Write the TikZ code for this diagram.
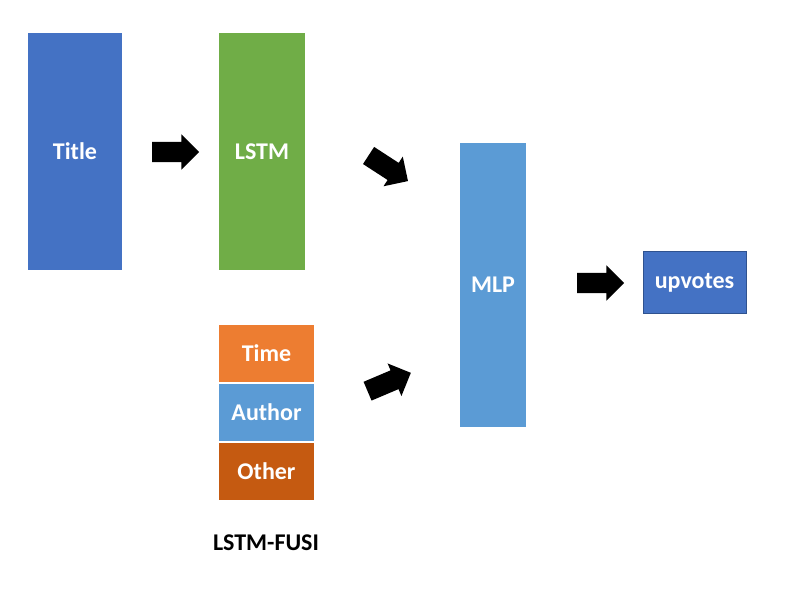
\documentclass[tikz,border=0pt]{standalone}
\usepackage{fontspec}
\setmainfont{Carlito}
\usetikzlibrary{shapes.arrows}
\definecolor{titleblue}{HTML}{4472C4}
\definecolor{lstmgreen}{HTML}{70AD47}
\definecolor{mlpblue}{HTML}{5B9BD5}
\definecolor{timeorange}{HTML}{ED7D31}
\definecolor{otherbrown}{HTML}{C55A11}
\definecolor{upborder}{HTML}{2F528F}
\begin{document}
\begin{tikzpicture}[x=1pt,y=-1pt,
    box/.style={draw=none, inner sep=0pt, text=white,
      font=\fontsize{24}{28}\selectfont\bfseries},
    blockarrow/.style={single arrow, fill=black, draw=none,
      inner xsep=0pt, inner ysep=10pt, minimum height=47pt,
      single arrow head extend=7.5pt, single arrow head indent=0pt,
      single arrow tip angle=90}
  ]
  \useasboundingbox (0,0) rectangle (804,593);
  % left column
  \node[box, fill=titleblue, minimum width=94pt, minimum height=237pt] (title) at (75,151.5) {Title};
  \node[box, fill=lstmgreen, minimum width=86pt, minimum height=237pt] (lstm) at (262,151.5) {LSTM};
  \node[box, fill=timeorange, minimum width=95pt, minimum height=57pt] (time) at (266.5,353.5) {Time};
  \node[box, fill=mlpblue, minimum width=95pt, minimum height=57pt] (author) at (266.5,412.5) {Author};
  \node[box, fill=otherbrown, minimum width=95pt, minimum height=57pt] (other) at (266.5,471.5) {Other};
  \node[font=\fontsize{24}{28}\selectfont\bfseries] (fusi) at (266,543) {LSTM-FUSI};
  % right part
  \node[box, fill=mlpblue, minimum width=66pt, minimum height=284pt] (mlp) at (493,285) {MLP};
  \node[box, fill=titleblue, draw=upborder, line width=1pt, minimum width=103pt, minimum height=62pt] (up) at (694.5,283) {upvotes};
  % block arrows
  \node[blockarrow] (a1) at (170.5,152) {};
  \node[blockarrow, rotate=-33] (a2) at (384,165.5) {};
  \node[blockarrow, rotate=23] (a3) at (384.5,384) {};
  \node[blockarrow] (a4) at (595.5,283) {};
\end{tikzpicture}
\end{document}
